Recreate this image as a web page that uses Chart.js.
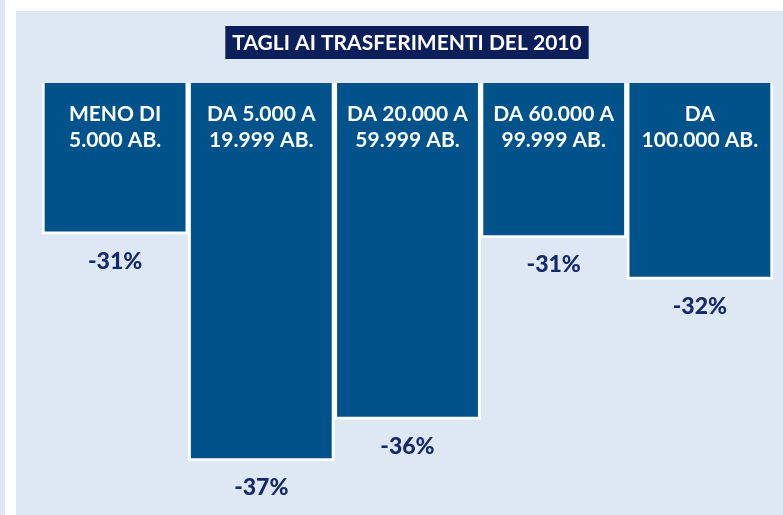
<!DOCTYPE html>
<html>
<head>
<meta charset="utf-8">
<script src="https://cdn.jsdelivr.net/npm/chart.js@4"></script>
<style>
  html, body { margin: 0; padding: 0; background: #ffffff; }
  #wrap { position: relative; width: 783px; height: 515px; overflow: hidden; }
  #strip { position: absolute; left: 0; top: 0; width: 5px; height: 515px; background: #dde8f4; }
  #panel { position: absolute; left: 16px; top: 11px; width: 767px; height: 504px; background: #dde8f4; }
  canvas { position: absolute; left: 0; top: 0; }
</style>
</head>
<body>
<div id="wrap">
  <div id="strip"></div>
  <div id="panel"></div>
  <canvas id="chart" width="783" height="515"></canvas>
</div>
<script>
var categories = [
  ['MENO DI', '5.000 AB.'],
  ['DA 5.000 A', '19.999 AB.'],
  ['DA 20.000 A', '59.999 AB.'],
  ['DA 60.000 A', '99.999 AB.'],
  ['DA', '100.000 AB.']
];
var cuts = [-31.0, -37.0, -35.9, -31.1, -32.2];   // bar lengths
var cutLabels = ['-31%', '-37%', '-36%', '-31%', '-32%'];
var title = 'TAGLI AI TRASFERIMENTI DEL 2010';

var FONT = 'Lato';

// title box, labels inside bars and values under bars
var labelsPlugin = {
  id: 'labels',
  afterDatasetsDraw: function (chart) {
    var c = chart.ctx;
    var bars = chart.getDatasetMeta(0).data;
    c.save();
    // title
    c.font = 'bold 21px ' + FONT;
    var w = c.measureText(title).width;
    var cx = 407;
    c.fillStyle = '#0c1f5b';
    c.fillRect(cx - w / 2 - 7, 26, w + 14, 33);
    c.fillStyle = '#ffffff';
    c.textAlign = 'center';
    c.textBaseline = 'middle';
    c.fillText(title, cx, 43);

    bars.forEach(function (bar, i) {
      c.fillStyle = '#ffffff';
      c.font = 'bold 21px ' + FONT;
      c.fillText(categories[i][0], bar.x, 114);
      c.fillText(categories[i][1], bar.x, 140);
      c.fillStyle = '#16296a';
      c.font = '900 23px ' + FONT;
      c.fillText(cutLabels[i], bar.x, bar.y + 27);
    });
    c.restore();
  }
};

new Chart(document.getElementById('chart'), {
  type: 'bar',
  data: {
    labels: categories,
    datasets: [{
      data: cuts,
      backgroundColor: '#00528a',
      borderColor: '#ffffff',
      borderWidth: { top: 5, left: 3, right: 3, bottom: 3 },
      borderSkipped: false,
      barPercentage: 1,
      categoryPercentage: 1
    }]
  },
  options: {
    responsive: false,
    animation: false,
    layout: { padding: { left: 42, right: 10, top: 83, bottom: 5 } },
    plugins: { legend: { display: false }, tooltip: { enabled: false } },
    scales: {
      x: { display: false },
      y: { display: false, min: -38.3, max: -27 }
    }
  },
  plugins: [labelsPlugin]
});
</script>
</body>
</html>
